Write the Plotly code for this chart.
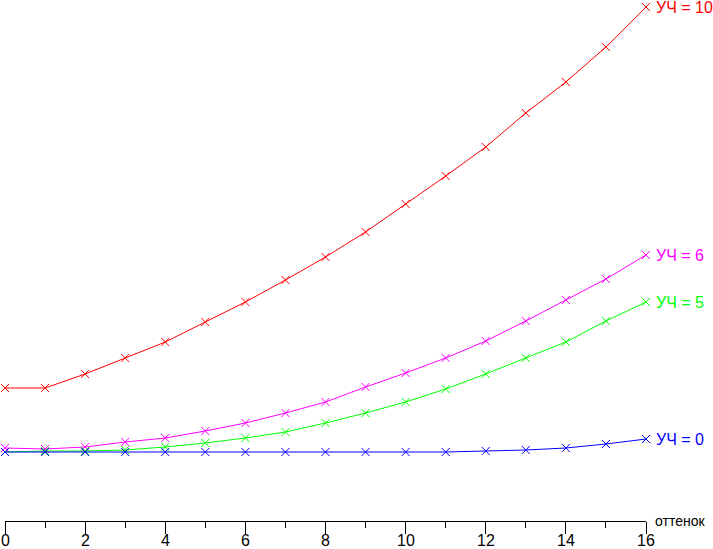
import plotly.graph_objects as go

# hue step (оттенок) and curves for each УЧ setting
hue = list(range(17))

uch_10 = [6.4, 6.4, 7.8, 9.4, 11.0, 13.0, 15.0, 17.2, 19.5, 22.0, 24.8, 27.6, 30.5, 33.9, 37.0, 40.5, 44.5]
uch_6 = [0.4, 0.3, 0.5, 1.0, 1.4, 2.1, 2.9, 3.9, 5.0, 6.5, 7.9, 9.4, 11.1, 13.1, 15.2, 17.3, 19.7]
uch_5 = [0.0, 0.1, 0.1, 0.2, 0.5, 0.9, 1.4, 2.0, 2.9, 3.9, 5.0, 6.3, 7.8, 9.4, 11.0, 13.1, 15.0]
uch_0 = [0.0, 0.0, 0.0, 0.0, 0.0, 0.0, 0.0, 0.0, 0.0, 0.0, 0.0, 0.0, 0.1, 0.2, 0.4, 0.8, 1.3]

series_names = ["УЧ = 10", "УЧ = 6", "УЧ = 5", "УЧ = 0"]
series_values = [uch_10, uch_6, uch_5, uch_0]
series_colors = ["#ff0000", "#ff00ff", "#00ff00", "#0000ff"]

tick_vals = list(range(0, 17, 2))
tick_text = [str(v) for v in tick_vals]

FONT = "Liberation Sans Narrow, Arial Narrow, Liberation Sans, Arial, sans-serif"

fig = go.Figure()
for name, vals, col in zip(series_names, series_values, series_colors):
    fig.add_trace(go.Scatter(
        x=hue, y=vals, mode="lines+markers", name=name,
        line=dict(color=col, width=1),
        marker=dict(symbol="x-thin", size=8, line=dict(color=col, width=1)),
        cliponaxis=False,
    ))
    fig.add_annotation(
        x=hue[-1], y=vals[-1], text=name, showarrow=False,
        xanchor="left", yanchor="middle", xshift=8,
        font=dict(color=col, size=16, family=FONT),
    )

# tick labels sit close under the long major ticks, so place them by hand
for v, t in zip(tick_vals, tick_text):
    fig.add_annotation(
        x=v, y=0, yref="paper", text=t, showarrow=False,
        xanchor="center", yanchor="top", yshift=-9,
        font=dict(color="#000000", size=16, family=FONT),
    )

fig.add_annotation(
    x=16, y=-6.9, text="оттенок", showarrow=False,
    xanchor="left", yanchor="middle", xshift=7,
    font=dict(color="#000000", size=14, family=FONT),
)

fig.update_layout(
    width=713, height=549,
    paper_bgcolor="white", plot_bgcolor="white",
    margin=dict(l=5, r=67, t=0, b=28),
    showlegend=False,
    font=dict(family=FONT, color="#000000"),
)
fig.update_xaxes(
    range=[0, 16], showgrid=False, zeroline=False, automargin=False,
    showline=True, linecolor="#000000", linewidth=1,
    tickmode="array", tickvals=tick_vals, showticklabels=False,
    ticks="outside", ticklen=12, tickcolor="#000000", tickwidth=1,
    minor=dict(dtick=1, ticks="outside", ticklen=6, tickcolor="#000000", tickwidth=1),
)
fig.update_yaxes(range=[-6.9, 45.2], visible=False, showgrid=False,
                 zeroline=False, automargin=False)

# drop the page's default body margin so the figure sits at the window corner
fig.write_html("out.html", config={"displayModeBar": False},
               post_script="document.body.style.margin='0';")
